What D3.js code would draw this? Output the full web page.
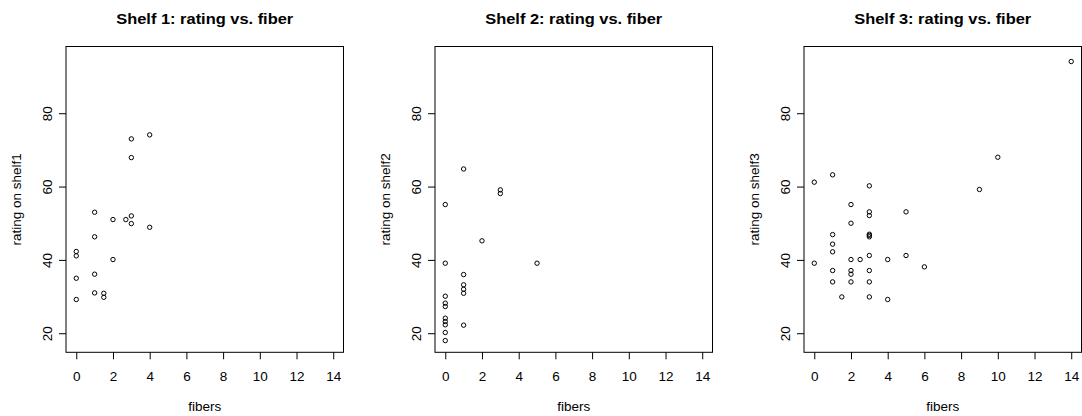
<!DOCTYPE html>
<html>
<head>
<meta charset="utf-8">
<script src="https://cdn.jsdelivr.net/npm/d3@7/dist/d3.min.js"></script>
<style>
  html, body { margin: 0; padding: 0; background: #fff; }
  svg { display: block; }
  text { font-family: "Liberation Sans", Arial, sans-serif; fill: #000; }
</style>
</head>
<body>
<svg id="chart" width="1082" height="416"></svg>
<script>
// ---- data ----
const shelfTitles = ["Shelf 1: rating vs. fiber", "Shelf 2: rating vs. fiber", "Shelf 3: rating vs. fiber"];
const yLabels = ["rating on shelf1", "rating on shelf2", "rating on shelf3"];
const xLabel = "fibers";
const xTicks = [0, 2, 4, 6, 8, 10, 12, 14];
const yTicks = [20, 40, 60, 80];

const shelf1Fiber  = [0, 0, 0, 0, 1, 1, 1, 1, 1.5, 1.5, 2, 2, 2.7, 3, 3, 3, 3, 4, 4];
const shelf1Rating = [42.3, 41.1, 35.0, 29.2, 53.0, 46.3, 36.1, 31.0, 30.9, 29.8, 51.0, 40.1, 51.0, 73.0, 67.9, 52.0, 49.9, 74.1, 48.9];

const shelf2Fiber  = [0, 0, 0, 0, 0, 0, 0, 0, 0, 0, 1, 1, 1, 1, 1, 1, 2, 3, 3, 5];
const shelf2Rating = [55.1, 39.1, 30.1, 28.2, 27.3, 24.1, 23.2, 22.3, 20.2, 18.0, 64.8, 36.0, 33.2, 32.0, 30.9, 22.2, 45.2, 59.1, 58.1, 39.1];

const shelf3Fiber  = [14, 10, 9, 0, 1, 3, 2, 3, 3, 5, 2, 3, 3, 3, 1, 1, 1, 3, 5, 0, 2, 2.5, 4, 6, 1, 2, 2, 3, 1, 2, 3, 1.5, 3, 4];
const shelf3Rating = [94.1, 68.0, 59.2, 61.2, 63.2, 60.2, 55.1, 53.1, 52.1, 53.1, 50.0, 47.0, 46.7, 46.3, 46.9, 44.3, 42.2, 41.2, 41.2, 39.1, 40.1, 40.1, 40.1, 38.1, 37.1, 37.1, 36.1, 37.1, 34.0, 34.0, 34.0, 29.9, 29.9, 29.2];

const panelsFiber  = [shelf1Fiber, shelf2Fiber, shelf3Fiber];
const panelsRating = [shelf1Rating, shelf2Rating, shelf3Rating];

// ---- layout ----
const svg = d3.select("#chart");
const panelLefts = [66, 435, 804];
const boxW = 277.5;
const boxTop = 46.5, boxBottom = 352.3;
const xDomain = [-0.56, 14.56];
const yDomain = [14.8, 98.2];
const labelFont = "13.5px";

panelLefts.forEach((left, i) => {
  const x = d3.scaleLinear().domain(xDomain).range([left, left + boxW]);
  const y = d3.scaleLinear().domain(yDomain).range([boxBottom, boxTop]);
  const g = svg.append("g");
  const cx = left + boxW / 2;
  const cy = (boxTop + boxBottom) / 2;

  // points
  const pts = panelsFiber[i].map((f, k) => [f, panelsRating[i][k]]);
  g.selectAll("circle").data(pts).enter().append("circle")
    .attr("cx", d => x(d[0]))
    .attr("cy", d => y(d[1]))
    .attr("r", 2.2)
    .attr("fill", "none")
    .attr("stroke", "#000")
    .attr("stroke-width", 1);

  // x axis
  const xa = g.append("g").attr("transform", `translate(0,${boxBottom})`)
    .call(d3.axisBottom(x).tickValues(xTicks).tickSize(7).tickSizeOuter(0).tickFormat(d3.format("d")));
  xa.select(".domain").remove();
  xa.selectAll(".tick line").attr("stroke", "#000");
  xa.selectAll(".tick text").attr("y", 28.7).attr("dy", 0)
    .style("font-size", labelFont).style("font-family", "'Liberation Sans', Arial, sans-serif");

  // y axis
  const ya = g.append("g").attr("transform", `translate(${left},0)`)
    .call(d3.axisLeft(y).tickValues(yTicks).tickSize(7).tickSizeOuter(0).tickFormat(d3.format("d")));
  ya.select(".domain").remove();
  ya.selectAll(".tick line").attr("stroke", "#000");
  ya.selectAll(".tick text")
    .attr("transform", "rotate(-90)")
    .attr("x", 0).attr("y", -14.5).attr("dy", 0)
    .attr("text-anchor", "middle")
    .style("font-size", labelFont).style("font-family", "'Liberation Sans', Arial, sans-serif");

  // box
  g.append("rect")
    .attr("x", x.range()[0]).attr("y", boxTop)
    .attr("width", boxW).attr("height", boxBottom - boxTop)
    .attr("fill", "none").attr("stroke", "#000").attr("stroke-width", 1);

  // titles
  g.append("text").attr("x", cx).attr("y", 24)
    .attr("text-anchor", "middle")
    .attr("textLength", 177).attr("lengthAdjust", "spacingAndGlyphs")
    .style("font-size", "15.5px").style("font-weight", "bold")
    .text(shelfTitles[i]);

  g.append("text").attr("x", cx).attr("y", 410.5)
    .attr("text-anchor", "middle")
    .style("font-size", labelFont)
    .text(xLabel);

  g.append("text")
    .attr("transform", `translate(${left - 45.3},${cy}) rotate(-90)`)
    .attr("text-anchor", "middle")
    .style("font-size", labelFont)
    .text(yLabels[i]);
});
</script>
</body>
</html>
